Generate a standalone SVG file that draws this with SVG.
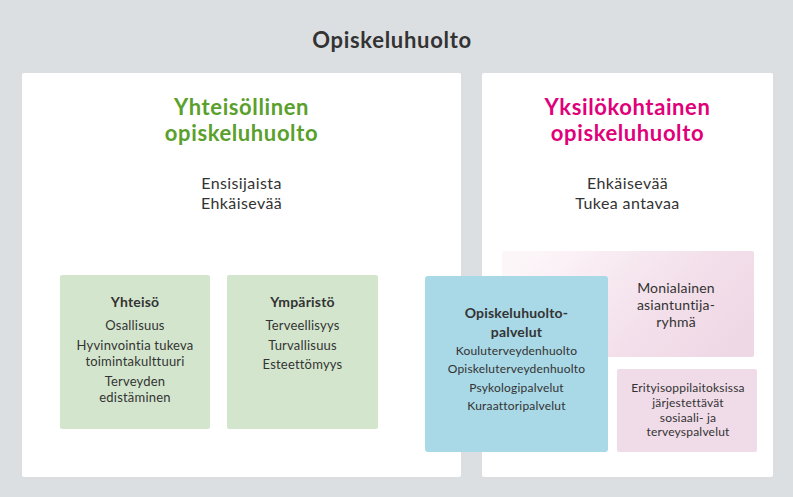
<svg xmlns="http://www.w3.org/2000/svg" width="793" height="497" viewBox="0 0 793 497">
<defs>
<linearGradient id="gMoni" x1="0" y1="0.3" x2="1" y2="0.7">
<stop offset="0" stop-color="#fdf6f9"/>
<stop offset="0.6" stop-color="#f3e0eb"/>
<stop offset="1" stop-color="#efd8e5"/>
</linearGradient>
<style>
text{font-family:Lato,"Noto Sans",sans-serif;fill:#333;text-anchor:middle}
.title{font-size:22px;font-weight:bold;letter-spacing:0.7px}
.h2{font-size:22px;font-weight:bold;letter-spacing:0.6px}
.sub{font-size:16px;letter-spacing:0.4px}
.bh{font-size:14px;font-weight:bold;letter-spacing:0.2px}
.bt{font-size:13px;letter-spacing:0.2px}
.st{font-size:12px;letter-spacing:0.2px}
.green{fill:#d3e6cd}
.pink{fill:#f0dbe8}
</style>
</defs>
<rect x="0" y="0" width="793" height="497" fill="#dcdfe2"/>
<g id="title"><text class="title" x="392" y="48">Opiskeluhuolto</text></g>
<g id="panel-left">
<rect x="22" y="73" width="439" height="404" rx="2" fill="#fff"/>
<text class="h2" x="241.5" y="115" style="fill:#5aa02c">Yhteisöllinen</text>
<text class="h2" x="241.5" y="141" style="fill:#5aa02c">opiskeluhuolto</text>
<text class="sub" x="241.5" y="189">Ensisijaista</text>
<text class="sub" x="241.5" y="209">Ehkäisevää</text>
</g>
<g id="panel-right">
<rect x="482" y="73" width="291" height="404" rx="2" fill="#fff"/>
<text class="h2" x="627.5" y="115" style="fill:#e0007a">Yksilökohtainen</text>
<text class="h2" x="627.5" y="141" style="fill:#e0007a">opiskeluhuolto</text>
<text class="sub" x="627.5" y="189">Ehkäisevää</text>
<text class="sub" x="627.5" y="209">Tukea antavaa</text>
</g>
<g id="yhteiso">
<rect class="green" x="60" y="275" width="150" height="154" rx="2"/>
<text class="bh" x="135" y="307">Yhteisö</text>
<text class="bt" x="135" y="330">Osallisuus</text>
<text class="bt" x="135" y="350">Hyvinvointia tukeva</text>
<text class="bt" x="135" y="366">toimintakulttuuri</text>
<text class="bt" x="135" y="386">Terveyden</text>
<text class="bt" x="135" y="402">edistäminen</text>
</g>
<g id="ymparisto">
<rect class="green" x="227" y="275" width="151" height="154" rx="2"/>
<text class="bh" x="302.5" y="307">Ympäristö</text>
<text class="bt" x="302.5" y="330">Terveellisyys</text>
<text class="bt" x="302.5" y="350">Turvallisuus</text>
<text class="bt" x="302.5" y="369">Esteettömyys</text>
</g>
<g id="monialainen">
<rect x="502" y="251" width="252" height="106" rx="2" fill="url(#gMoni)"/>
<text class="bt" style="font-size:14px" x="676" y="293">Monialainen</text>
<text class="bt" style="font-size:14px" x="676" y="310">asiantuntija-</text>
<text class="bt" style="font-size:14px" x="676" y="327">ryhmä</text>
</g>
<g id="erityis">
<rect class="pink" x="617" y="369" width="140" height="83" rx="2"/>
<text class="st" x="688" y="392">Erityisoppilaitoksissa</text>
<text class="st" x="688" y="407">järjestettävät</text>
<text class="st" x="688" y="422">sosiaali- ja</text>
<text class="st" x="688" y="436">terveyspalvelut</text>
</g>
<g id="palvelut">
<rect x="425" y="276" width="183" height="176" rx="3" fill="#a9d8e6"/>
<text class="bh" x="516.5" y="318">Opiskeluhuolto-</text>
<text class="bh" x="516.5" y="337">palvelut</text>
<text class="st" x="516.5" y="355">Kouluterveydenhuolto</text>
<text class="st" x="516.5" y="373">Opiskeluterveydenhuolto</text>
<text class="st" x="516.5" y="392">Psykologipalvelut</text>
<text class="st" x="516.5" y="410">Kuraattoripalvelut</text>
</g>
<g id="connectors"></g>
</svg>
